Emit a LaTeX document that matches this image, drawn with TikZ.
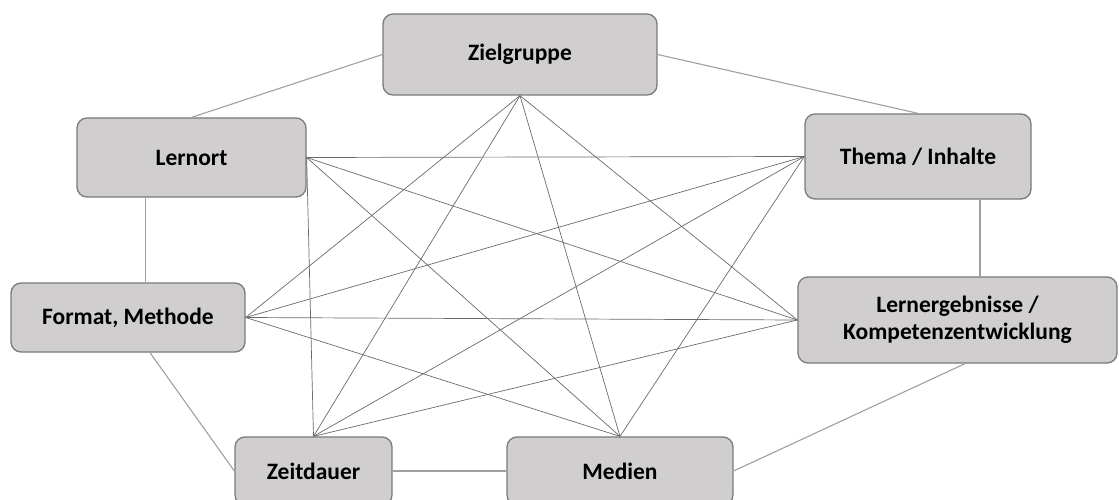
\documentclass[tikz,border=0pt]{standalone}
\usepackage{fontspec}
\setmainfont{Carlito}
\usepackage{xcolor}
\definecolor{boxfill}{HTML}{D0CECF}
\definecolor{boxline}{HTML}{7A7A7A}
\definecolor{ringline}{HTML}{A0A0A0}
\definecolor{crossline}{HTML}{6A6A6A}
\tikzset{
  box/.style={rectangle, rounded corners=10pt, draw=boxline, line width=1.3pt,
    fill=boxfill, font=\fontsize{23.5}{27}\selectfont\bfseries, align=center,
    inner sep=0pt},
  ring/.style={draw=ringline, line width=1.1pt},
  cross/.style={draw=crossline, line width=0.7pt}
}
\begin{document}
\begin{tikzpicture}[x=1pt,y=-1pt]
        \useasboundingbox (0,0) rectangle (1119,500);
        % die sieben Kaesten
        \node [box, minimum width=274pt, minimum height=81pt] (zielgruppe) at (520,54.5) {Zielgruppe};
        \node [box, minimum width=229pt, minimum height=79pt] (lernort) at (191.5,157.5) {Lernort};
        \node [box, minimum width=226pt, minimum height=85pt] (thema) at (918,156.5) {Thema / Inhalte};
        \node [box, minimum width=234pt, minimum height=69pt] (format) at (128,317.5) {Format, Methode};
        \node [box, minimum width=319pt, minimum height=86pt] (ergebnisse) at (957.5,320) {Lernergebnisse /\\Kompetenzentwicklung};
        \node [box, minimum width=157pt, minimum height=68pt] (zeitdauer) at (313.5,471) {Zeitdauer};
        \node [box, minimum width=226pt, minimum height=68pt] (medien) at (620,471) {Medien};
        % aeusserer Ring
        \draw [ring] (zielgruppe.west) -- (lernort.north);
        \draw [ring] (zielgruppe.east) -- (thema.north);
        \draw [ring] ([xshift=-46pt]lernort.south) -- ([xshift=-46pt]lernort.south |- format.north);
        \draw [ring] ([xshift=62pt]thema.south) -- ([xshift=62pt]thema.south |- ergebnisse.north);
        \draw [ring] ([xshift=22pt]format.south) -- (zeitdauer.west);
        \draw [ring] (zeitdauer.east) -- (medien.west);
        \draw [ring] (medien.east) -- ([xshift=7.5pt]ergebnisse.south);
        % Querverbindungen
        \draw [cross] (zielgruppe.south) -- (format.east);
        \draw [cross] (zielgruppe.south) -- (zeitdauer.north);
        \draw [cross] (zielgruppe.south) -- (medien.north);
        \draw [cross] (zielgruppe.south) -- (ergebnisse.west);
        \draw [cross] (lernort.east) -- (thema.west);
        \draw [cross] (lernort.east) -- (ergebnisse.west);
        \draw [cross] (lernort.east) -- (medien.north);
        \draw [cross] (lernort.east) -- (zeitdauer.north);
        \draw [cross] (thema.west) -- (format.east);
        \draw [cross] (thema.west) -- (zeitdauer.north);
        \draw [cross] (thema.west) -- (medien.north);
        \draw [cross] (format.east) -- (ergebnisse.west);
        \draw [cross] (format.east) -- (medien.north);
        \draw [cross] (ergebnisse.west) -- (zeitdauer.north);
    \end{tikzpicture}
\end{document}
